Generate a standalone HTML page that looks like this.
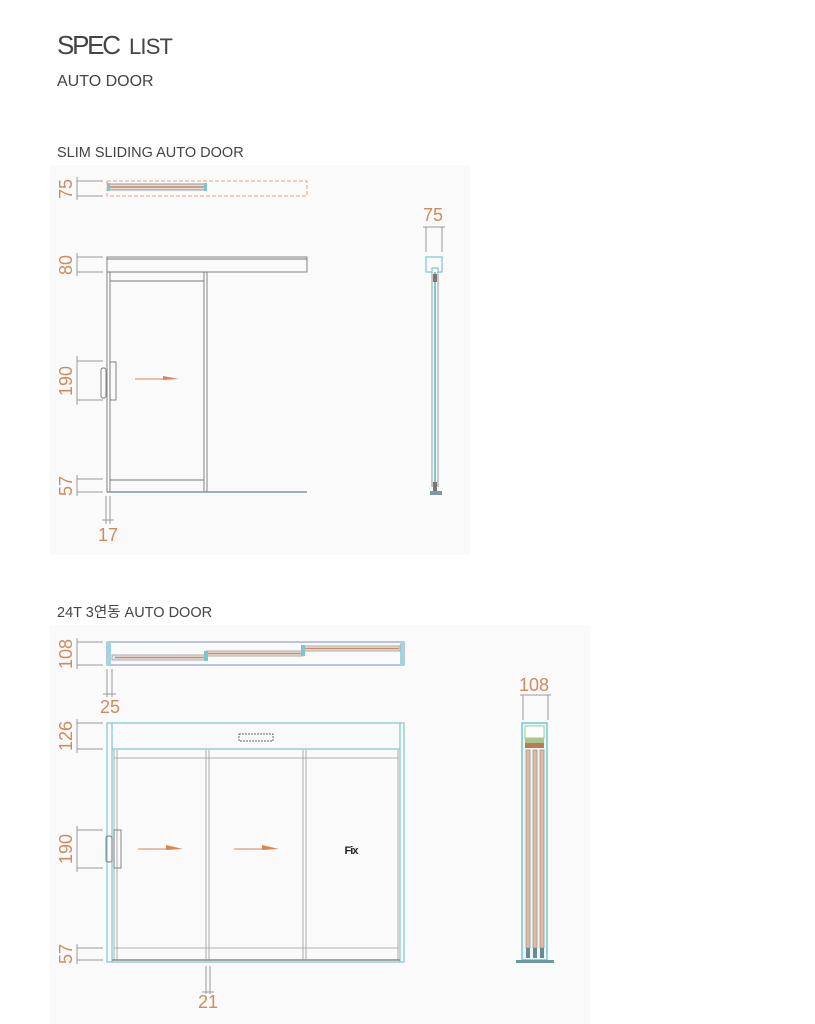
<!DOCTYPE html>
<html><head><meta charset="utf-8"><style>
html,body{margin:0;padding:0;background:#fff;width:815px;height:1024px;overflow:hidden}
svg{display:block}
text{font-family:"Liberation Sans","Noto Sans CJK KR",sans-serif}
.d{stroke:#999;stroke-width:1;fill:none}
.o{fill:#d08a5c;font-size:18px}
.k{stroke:#777;fill:none;stroke-width:0.9}
.t{stroke:#7cc6cf;fill:none;stroke-width:1.2}
</style></head><body>
<svg width="815" height="1024" viewBox="0 0 815 1024">
<text x="57" y="54" font-size="26" fill="#444" textLength="64">SPEC</text>
<text x="129" y="54" font-size="22" fill="#444" textLength="44">LIST</text>
<text x="57" y="86" font-size="16" fill="#444">AUTO DOOR</text>
<text x="57" y="157" font-size="14.5" fill="#444">SLIM SLIDING AUTO DOOR</text>
<rect x="50" y="165" width="420" height="390" fill="#fafafa"/>
<rect x="50" y="625" width="540" height="399" fill="#fafafa"/>
<text x="57" y="617" font-size="14.5" fill="#444">24T 3연동 AUTO DOOR</text>

<!-- door1 plan -->
<rect x="107" y="181" width="200" height="15" fill="none" stroke="#e0a58a" stroke-dasharray="4,2"/>
<rect x="108" y="184" width="98" height="6" fill="#ddd" stroke="#999"/>
<line x1="110" y1="187" x2="205" y2="187" stroke="#d08a5c" stroke-width="1.5"/>
<rect x="107" y="183" width="3" height="8" fill="#7cc6cf"/><rect x="204" y="183" width="3" height="8" fill="#7cc6cf"/>
<g class="d"><line x1="77" y1="181" x2="103" y2="181"/><line x1="77" y1="196" x2="103" y2="196"/><line x1="77" y1="177" x2="77" y2="200"/></g>
<text class="o" transform="translate(72,189) rotate(-90)" text-anchor="middle">75</text>

<!-- door1 elevation -->
<rect x="107" y="257" width="200" height="15" class="k"/><line x1="107" y1="259" x2="307" y2="259" class="k"/>
<rect x="107" y="272" width="100" height="220" class="k"/>
<rect x="110" y="272" width="94" height="220" class="k"/>
<line x1="110" y1="281" x2="204" y2="281" class="k"/>
<line x1="110" y1="480" x2="204" y2="480" class="k"/>
<line x1="107" y1="492" x2="307" y2="492" stroke="#7a9aa0" stroke-width="1.5"/>
<rect x="101" y="368" width="5" height="30" rx="2" class="k"/>
<rect x="110" y="362" width="6" height="38" class="k"/>
<line x1="135" y1="379" x2="170" y2="379" stroke="#d9875a"/><polygon points="163,376 179,379 163,380" fill="#d9875a"/>
<g class="d">
<line x1="77" y1="257" x2="103" y2="257"/><line x1="77" y1="272" x2="103" y2="272"/><line x1="77" y1="253" x2="77" y2="276"/>
<line x1="77" y1="361" x2="103" y2="361"/><line x1="77" y1="400" x2="103" y2="400"/><line x1="77" y1="356" x2="77" y2="405"/>
<line x1="77" y1="479" x2="103" y2="479"/><line x1="77" y1="492" x2="103" y2="492"/><line x1="77" y1="475" x2="77" y2="496"/>
<line x1="106" y1="496" x2="106" y2="524"/><line x1="110" y1="496" x2="110" y2="524"/><line x1="102" y1="520" x2="114" y2="520"/>
</g>
<text class="o" transform="translate(72,265) rotate(-90)" text-anchor="middle">80</text>
<text class="o" transform="translate(72,381) rotate(-90)" text-anchor="middle">190</text>
<text class="o" transform="translate(72,486) rotate(-90)" text-anchor="middle">57</text>
<text class="o" x="108" y="541" text-anchor="middle">17</text>

<!-- door1 side -->
<text class="o" x="433" y="221" text-anchor="middle">75</text>
<g class="d"><line x1="426" y1="227" x2="426" y2="252"/><line x1="442" y1="227" x2="442" y2="252"/><line x1="423" y1="227" x2="445" y2="227"/></g>
<path d="M426 257 H442 V272 H438 V268 H432 V272 H426 Z" class="t"/>
<line x1="432" y1="272" x2="432" y2="487" stroke="#999"/><line x1="438" y1="272" x2="438" y2="487" stroke="#999"/>
<line x1="435" y1="272" x2="435" y2="487" stroke="#7cc6cf" stroke-width="2"/>
<rect x="433" y="274" width="4" height="8" fill="#777"/><rect x="433" y="482" width="4" height="9" fill="#777"/>
<rect x="430" y="491" width="12" height="4" fill="#7a9aa0"/>

<!-- door2 plan -->
<rect x="107" y="642" width="297" height="23" fill="none" stroke="#7a8fd0"/>
<rect x="107" y="642" width="4" height="23" fill="#9fd6dc"/><rect x="400" y="642" width="4" height="23" fill="#9fd6dc"/>
<rect x="112" y="655" width="95" height="5" fill="#e8e8e8" stroke="#aaa"/><line x1="115" y1="657.5" x2="206" y2="657.5" stroke="#d08a5c" stroke-width="1.5"/>
<rect x="206" y="651" width="97" height="5" fill="#e8e8e8" stroke="#aaa"/><line x1="208" y1="653.5" x2="302" y2="653.5" stroke="#d08a5c" stroke-width="1.5"/>
<rect x="303" y="646" width="97" height="5" fill="#e8e8e8" stroke="#aaa"/><line x1="305" y1="648.5" x2="399" y2="648.5" stroke="#d08a5c" stroke-width="1.5"/>
<rect x="204" y="651" width="4" height="10" fill="#7cc6cf"/><rect x="301" y="645" width="4" height="11" fill="#7cc6cf"/>
<g class="d">
<line x1="77" y1="642" x2="103" y2="642"/><line x1="77" y1="665" x2="103" y2="665"/><line x1="77" y1="638" x2="77" y2="669"/>
<line x1="107" y1="669" x2="107" y2="697"/><line x1="112" y1="669" x2="112" y2="697"/><line x1="103" y1="694" x2="116" y2="694"/>
<line x1="77" y1="723" x2="103" y2="723"/><line x1="77" y1="749" x2="103" y2="749"/><line x1="77" y1="719" x2="77" y2="753"/>
<line x1="77" y1="830" x2="103" y2="830"/><line x1="77" y1="868" x2="103" y2="868"/><line x1="77" y1="826" x2="77" y2="872"/>
<line x1="77" y1="948" x2="103" y2="948"/><line x1="77" y1="960" x2="103" y2="960"/><line x1="77" y1="944" x2="77" y2="964"/>
<line x1="206" y1="966" x2="206" y2="994"/><line x1="210" y1="966" x2="210" y2="994"/><line x1="202" y1="992" x2="214" y2="992"/>
</g>
<text class="o" transform="translate(72,654) rotate(-90)" text-anchor="middle">108</text>
<text class="o" x="110" y="713" text-anchor="middle">25</text>
<text class="o" transform="translate(72,736) rotate(-90)" text-anchor="middle">126</text>
<text class="o" transform="translate(72,849) rotate(-90)" text-anchor="middle">190</text>
<text class="o" transform="translate(72,954) rotate(-90)" text-anchor="middle">57</text>
<text class="o" x="208" y="1008" text-anchor="middle">21</text>

<!-- door2 elevation -->
<rect x="107" y="723" width="297" height="239" class="t"/>
<line x1="112" y1="723" x2="112" y2="962" class="t"/><line x1="400" y1="723" x2="400" y2="962" class="t"/>
<line x1="112" y1="749" x2="400" y2="749" class="t"/>
<rect x="239" y="734" width="34" height="7" fill="none" stroke="#666" stroke-dasharray="2,1"/>
<g stroke="#999" fill="none" stroke-width="0.8">
<line x1="114" y1="750" x2="114" y2="960"/><line x1="117" y1="750" x2="117" y2="960"/>
<line x1="206" y1="750" x2="206" y2="960"/><line x1="209" y1="750" x2="209" y2="960"/>
<line x1="303" y1="750" x2="303" y2="960"/><line x1="306" y1="750" x2="306" y2="960"/>
<line x1="398" y1="750" x2="398" y2="960"/>
<line x1="114" y1="758" x2="398" y2="758"/>
<line x1="114" y1="948" x2="398" y2="948"/>
</g>
<line x1="112" y1="960" x2="400" y2="960" stroke="#888" stroke-width="1.5"/>
<rect x="106" y="836" width="6" height="26" rx="2" class="k"/>
<rect x="114" y="830" width="7" height="38" class="k"/>
<line x1="138" y1="849" x2="175" y2="849" stroke="#d9875a"/><polygon points="166,845 183,849 166,850" fill="#d9875a"/>
<line x1="234" y1="849" x2="271" y2="849" stroke="#d9875a"/><polygon points="262,845 279,849 262,850" fill="#d9875a"/>
<text x="351" y="854" font-size="11" font-weight="bold" fill="#222" text-anchor="middle" letter-spacing="-1">Fix</text>

<!-- door2 side -->
<text class="o" x="534" y="691" text-anchor="middle">108</text>
<g class="d"><line x1="523" y1="695" x2="523" y2="720"/><line x1="548" y1="695" x2="548" y2="720"/><line x1="520" y1="695" x2="551" y2="695"/></g>
<rect x="522" y="723" width="25" height="237" fill="#eaf6f7" stroke="#7cc6cf" stroke-width="1.5"/>
<rect x="525" y="726" width="19" height="12" fill="#fff" stroke="#9c9"/>
<rect x="525" y="738" width="19" height="5" fill="#a8c88a"/>
<rect x="525" y="743" width="19" height="5" fill="#c07850"/>
<g fill="#e3b8a0" stroke="#888" stroke-width="0.6">
<rect x="526" y="750" width="4" height="198"/><rect x="533" y="750" width="4" height="198"/><rect x="540" y="750" width="4" height="198"/>
</g>
<g fill="#6a8a90"><rect x="526" y="948" width="4" height="10"/><rect x="533" y="948" width="4" height="10"/><rect x="540" y="948" width="4" height="10"/></g>
<rect x="516" y="960" width="38" height="3" fill="#6a9aa0"/>
</svg>
</body></html>
